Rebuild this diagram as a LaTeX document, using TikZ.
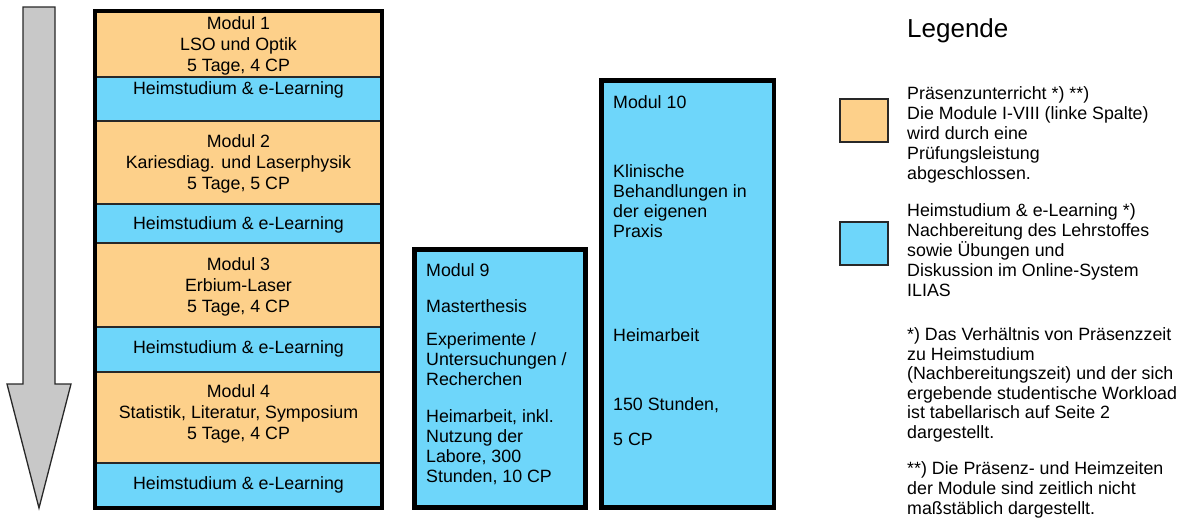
\documentclass[tikz,border=0pt]{standalone}
\usepackage{fontspec}
\setmainfont{Liberation Sans}
\definecolor{orangefill}{RGB}{253,208,138}
\definecolor{bluefill}{RGB}{110,214,250}
\definecolor{rowline}{RGB}{40,40,40}
\definecolor{arrowgray}{RGB}{200,200,200}
\begin{document}
% multi-line nodes are anchored at the baseline of their last line
\begin{tikzpicture}[x=1pt,y=-1pt,
  txt/.style={font=\fontsize{17.8}{21}\selectfont, inner sep=0pt, align=center, anchor=base},
  ltxt/.style={font=\fontsize{17.8}{20}\selectfont, inner sep=0pt, align=left, anchor=base west},
  praes/.style={fill=orangefill, draw=rowline, line width=1.2pt},
  heim/.style={fill=bluefill, draw=rowline, line width=1.2pt},
  frame/.style={draw=black, line width=4.5pt},
  keybox/.style={draw=rowline, line width=2pt},
]
\useasboundingbox (0,0) rectangle (1184,517);

% time arrow
\draw[fill=arrowgray, draw=rowline, line width=1.3pt, line join=miter]
  (23,7) -- (55,7) -- (55,384) -- (71,384) -- (39,508) -- (7,384) -- (23,384) -- cycle;

% left column: presence modules and home study
\draw[praes] (96,11) rectangle (382,77);
\draw[heim]  (96,77) rectangle (382,121);
\draw[praes] (96,121) rectangle (382,204);
\draw[heim]  (96,204) rectangle (382,243);
\draw[praes] (96,243) rectangle (382,327);
\draw[heim]  (96,327) rectangle (382,372);
\draw[praes] (96,372) rectangle (382,463);
\draw[heim]  (96,463) rectangle (382,508);
\draw[frame] (95,11) rectangle (382,508);

\node[txt] (m1) at (238.5,71) {Modul 1\\LSO und Optik\\5 Tage, 4 CP};
\node[txt] (h1) at (238.5,94) {Heimstudium \& e-Learning};
\node[txt] (m2) at (238.5,189) {Modul 2\\Kariesdiag. und Laserphysik\\5 Tage, 5 CP};
\node[txt] (h2) at (238.5,229) {Heimstudium \& e-Learning};
\node[txt] (m3) at (238.5,312) {Modul 3\\Erbium-Laser\\5 Tage, 4 CP};
\node[txt] (h3) at (238.5,353) {Heimstudium \& e-Learning};
\node[txt] (m4) at (238.5,439) {Modul 4\\Statistik, Literatur, Symposium\\5 Tage, 4 CP};
\node[txt] (h4) at (238.5,489) {Heimstudium \& e-Learning};

% module 9
\draw[frame, fill=bluefill] (414.5,249.5) rectangle (585.5,507.5);
\node[ltxt] (m9a) at (426,276) {Modul 9};
\node[ltxt] (m9b) at (426,312) {Masterthesis};
\node[ltxt] (m9c) at (426,385) {Experimente /\\Untersuchungen /\\Recherchen};
\node[ltxt] (m9d) at (426,482) {Heimarbeit, inkl.\\Nutzung der\\Labore, 300\\Stunden, 10 CP};

% module 10
\draw[frame, fill=bluefill] (601.5,80.5) rectangle (774,507.5);
\node[ltxt] (m10a) at (613,108) {Modul 10};
\node[ltxt] (m10b) at (613,237) {Klinische\\Behandlungen in\\der eigenen\\Praxis};
\node[ltxt] (m10c) at (613,341) {Heimarbeit};
\node[ltxt] (m10d) at (613,410) {150 Stunden,};
\node[ltxt] (m10e) at (613,445) {5 CP};

% legend
\node[font=\fontsize{26}{30}\selectfont, inner sep=0pt, anchor=base west] (leg) at (907,37) {Legende};
\draw[keybox, fill=orangefill] (840,99) rectangle (888,142);
\draw[keybox, fill=bluefill] (840,222) rectangle (888,265);
\node[ltxt] (l1) at (907,179) {Präsenzunterricht *) **)\\Die Module I-VIII (linke Spalte)\\wird durch eine\\Prüfungsleistung\\abgeschlossen.};
\node[ltxt] (l2) at (907,296) {Heimstudium \& e-Learning *)\\Nachbereitung des Lehrstoffes\\sowie Übungen und\\Diskussion im Online-System\\ILIAS};
\node[ltxt, font=\fontsize{17.8}{19.5}\selectfont] (l3) at (907,438) {*) Das Verhältnis von Präsenzzeit\\zu Heimstudium\\(Nachbereitungszeit) und der sich\\ergebende studentische Workload\\ist tabellarisch auf Seite 2\\dargestellt.};
\node[ltxt] (l4) at (907,514) {**) Die Präsenz- und Heimzeiten\\der Module sind zeitlich nicht\\maßstäblich dargestellt.};
\end{tikzpicture}
\end{document}
